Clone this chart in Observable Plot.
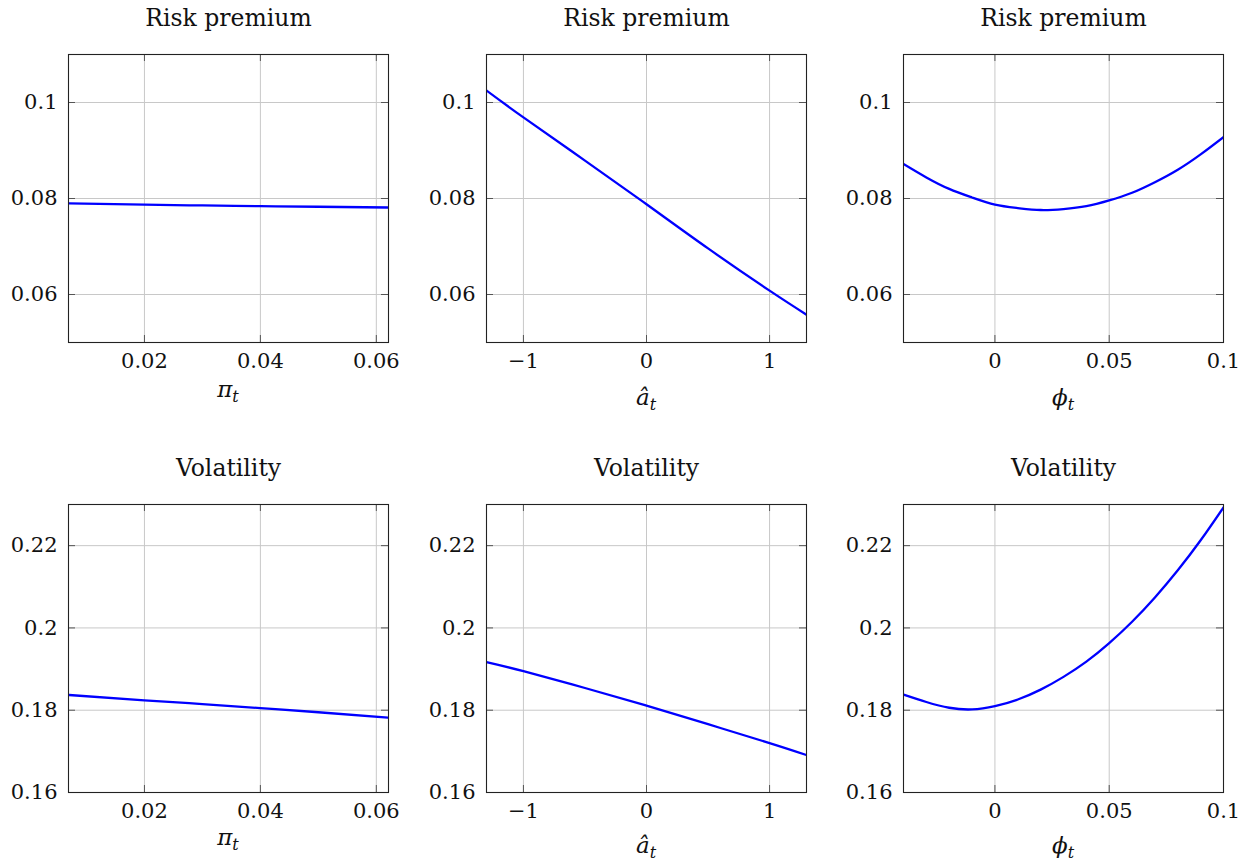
<!DOCTYPE html>
<html>
<head>
<meta charset="utf-8">
<script src="https://cdn.jsdelivr.net/npm/d3@7"></script>
<script src="https://cdn.jsdelivr.net/npm/@observablehq/plot@0.6"></script>
<style>
  html, body { margin: 0; padding: 0; background: #fff; }
  #wrap { position: relative; width: 1251px; height: 865px; overflow: hidden; font-family: "DejaVu Serif", serif; color: #111; }
  .panel { position: absolute; }
  .xlab { position: absolute; width: 200px; text-align: center; font-size: 23px; font-style: italic; line-height: 1; }
  .xlab sub { font-size: 16px; vertical-align: -5px; line-height: 0; }
</style>
</head>
<body>
<div id="wrap"></div>
<script>
// ---- data ----
const titles = ["Risk premium", "Volatility"];

const piX      = [0.007, 0.02, 0.03, 0.04, 0.05, 0.062];
const piRisk   = [0.0790, 0.07872, 0.07855, 0.0784, 0.07828, 0.07812];
const piVol    = [0.1837, 0.1824, 0.1815, 0.1805, 0.1795, 0.1782];

const aX       = [-1.3, -1, -0.5, 0, 0.5, 1, 1.3];
const aRisk    = [0.1025, 0.0969, 0.0879, 0.0788, 0.0696, 0.0608, 0.0558];
const aVol     = [0.1917, 0.1895, 0.1854, 0.1811, 0.1766, 0.1720, 0.1691];

const phiX     = [-0.04, -0.03, -0.02, -0.01, 0, 0.01, 0.02, 0.03, 0.04, 0.05, 0.06, 0.07, 0.08, 0.09, 0.1];
const phiRisk  = [0.0872, 0.0844, 0.0820, 0.0802, 0.0787, 0.0780, 0.0776, 0.0778, 0.0784, 0.0796, 0.0812, 0.0834, 0.0860, 0.0892, 0.0928];
const phiVol   = [0.1838, 0.1820, 0.1806, 0.1802, 0.1810, 0.1826, 0.1850, 0.1881, 0.1918, 0.1963, 0.2015, 0.2074, 0.2140, 0.2213, 0.2293];

const xDomains = [[0.0069, 0.0621], [-1.3, 1.3], [-0.04, 0.1]];
const xTicks   = [[0.02, 0.04, 0.06], [-1, 0, 1], [0, 0.05, 0.1]];
const xLabels  = [["π", "t"], ["â", "t"], ["ϕ", "t"]];

const yDomains = [[0.05, 0.11], [0.16, 0.23]];
const yTicks   = [[0.06, 0.08, 0.1], [0.16, 0.18, 0.2, 0.22]];

const xs = [piX, aX, phiX];
const ys = [[piRisk, aRisk, phiRisk], [piVol, aVol, phiVol]];

// ---- layout ----
const plotLefts = [68, 486, 903];
const plotTops = [54, 504];
const plotW = 320;
const plotHs = [288, 288];
const mL = 70, mR = 27, mT = 54, mB = 40;
const labelTops = [[378, 386, 386], [826, 834, 834]];
const fmt = d3.format("~g");

const wrap = document.getElementById("wrap");

for (let r = 0; r < 2; r++) {
  for (let c = 0; c < 3; c++) {
    const H = plotHs[r];
    const data = xs[c].map((x, i) => ({x, y: ys[r][c][i]}));
    const tickLen = 7;
    const plot = Plot.plot({
      width: mL + plotW + mR,
      height: mT + H + mB,
      marginLeft: mL, marginRight: mR, marginTop: mT, marginBottom: mB,
      style: {fontFamily: "DejaVu Serif", fontSize: "21px", background: "transparent", color: "#111", overflow: "visible"},
      x: {domain: xDomains[c]},
      y: {domain: yDomains[r]},
      marks: [
        Plot.ruleX(xTicks[c], {stroke: "#c8c8c8", strokeWidth: 1}),
        Plot.ruleY(yTicks[r], {stroke: "#c8c8c8", strokeWidth: 1}),
        // inward tick marks on all four sides
        Plot.ruleX(xTicks[c], {stroke: "#555", insetTop: H - tickLen}),
        Plot.ruleX(xTicks[c], {stroke: "#555", insetBottom: H - tickLen}),
        Plot.ruleY(yTicks[r], {stroke: "#555", insetRight: plotW - tickLen}),
        Plot.ruleY(yTicks[r], {stroke: "#555", insetLeft: plotW - tickLen}),
        Plot.line(data, {x: "x", y: "y", stroke: "#0000ff", strokeWidth: 2.3, curve: "natural", clip: true}),
        Plot.frame({stroke: "#222", strokeWidth: 1.1}),
        Plot.axisX(xTicks[c], {anchor: "bottom", tickSize: 0, tickPadding: 11, label: null, fontSize: 21, tickFormat: fmt}),
        Plot.axisY(yTicks[r], {anchor: "left", tickSize: 0, tickPadding: 11, label: null, fontSize: 21, tickFormat: fmt}),
        Plot.text([titles[r]], {frameAnchor: "top", lineAnchor: "middle", dy: -36, fontSize: 23.5, fill: "#111"})
      ]
    });
    const div = document.createElement("div");
    div.className = "panel";
    div.style.left = (plotLefts[c] - mL) + "px";
    div.style.top = (plotTops[r] - mT) + "px";
    div.appendChild(plot);
    wrap.appendChild(div);

    const lab = document.createElement("div");
    lab.className = "xlab";
    lab.style.left = (plotLefts[c] + plotW / 2 - 100) + "px";
    lab.style.top = labelTops[r][c] + "px";
    lab.innerHTML = xLabels[c][0] + "<sub>" + xLabels[c][1] + "</sub>";
    wrap.appendChild(lab);
  }
}
</script>
</body>
</html>
